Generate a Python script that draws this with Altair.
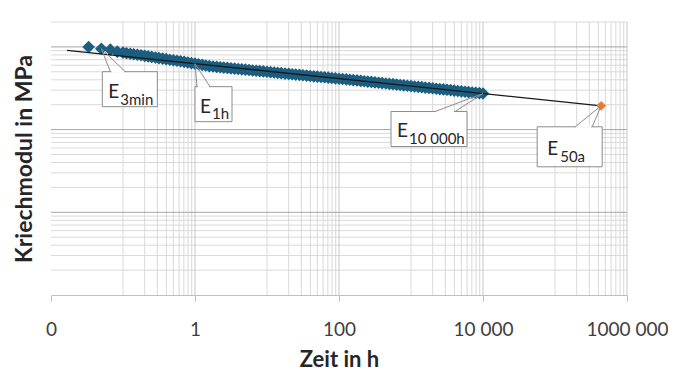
import altair as alt
import pandas as pd

# ---- data ----
time_early = [0.0333, 0.05, 0.0667, 0.0833]
mod_early = [997, 951, 925, 875]

time_d1 = [0.1, 0.112, 0.126, 0.141, 0.158, 0.178, 0.2, 0.224, 0.251, 0.282,
           0.316, 0.355, 0.398, 0.447, 0.501, 0.562, 0.631, 0.708, 0.794, 0.891]
mod_d1 = [851, 839, 827, 815, 803, 792, 780, 767, 756, 744,
          733, 722, 711, 700, 690, 680, 670, 659, 648, 637]

time_d2 = [1, 1.12, 1.26, 1.41, 1.58, 1.78, 2, 2.24, 2.51, 2.82,
           3.16, 3.55, 3.98, 4.47, 5.01, 5.62, 6.31, 7.08, 7.94, 8.91]
mod_d2 = [627, 616, 606, 596, 586, 579, 573, 568, 562, 557,
          551, 546, 540, 535, 530, 525, 519, 514, 510, 505]

time_d3 = [10, 11.2, 12.6, 14.1, 15.8, 17.8, 20, 22.4, 25.1, 28.2,
           31.6, 35.5, 39.8, 44.7, 50.1, 56.2, 63.1, 70.8, 79.4, 89.1]
mod_d3 = [500, 495, 490, 486, 481, 476, 472, 467, 463, 459,
          454, 450, 445, 441, 437, 433, 429, 425, 421, 416]

time_d4 = [100, 112, 126, 141, 158, 178, 200, 224, 251, 282,
           316, 355, 398, 447, 501, 562, 631, 708, 794, 891]
mod_d4 = [412, 409, 405, 401, 397, 393, 388, 384, 380, 377,
          373, 369, 365, 361, 357, 354, 350, 346, 343, 339]

time_d5 = [1000, 1120, 1260, 1410, 1580, 1780, 2000, 2240, 2510, 2820,
           3160, 3550, 3980, 4470, 5010, 5620, 6310, 7080, 7940, 8910, 10000]
mod_d5 = [336, 332, 329, 326, 322, 319, 316, 312, 309, 306,
          303, 300, 296, 293, 290, 287, 284, 281, 278, 276, 273]

trend_time = [0.0167, 438000]
trend_mod = [908, 194]

forecast_time = [438000]
forecast_mod = [194]

x_ticks = [0.01, 1, 100, 10000, 1000000]
x_tick_labels = ["0", "1", "100", "10 000", "1000 000"]
x_grid_major = [1, 100, 10000, 1000000]
x_grid_minor = [0.1, 0.2, 0.3, 0.4, 0.5, 0.6, 0.7, 0.8, 0.9,
                10, 20, 30, 40, 50, 60, 70, 80, 90,
                1000, 2000, 3000, 4000, 5000, 6000, 7000, 8000, 9000,
                100000, 200000, 300000, 400000, 500000, 600000, 700000, 800000, 900000]
y_grid_major = [10, 100, 1000]
y_grid_minor = [2, 3, 4, 5, 6, 7, 8, 9,
                20, 30, 40, 50, 60, 70, 80, 90,
                200, 300, 400, 500, 600, 700, 800, 900, 2000]

ann_names = ["E", "E", "E", "E"]
ann_subs = ["3min", "1h", "10 000h", "50a"]
ann_time = [0.05, 1, 10000, 438000]
ann_mod = [951, 627, 273, 194]

# layout of the callouts (pixel offsets from the pointed-at point)
ann_layout = [
    dict(box=(1, 23, 56, 58), wedge=(9, 24), e=(6, 26), sub=(18, 33)),
    dict(box=(0, 23, 37, 58), wedge=(2, 15), e=(5, 26), sub=(17, 32)),
    dict(box=(-92, 18, -16, 53), wedge=(-48, -28), e=(6, 25), sub=(18, 32)),
    dict(box=(-64, 21, 1, 61), wedge=(-26, -9), e=(10, 28), sub=(23, 35)),
]

FONT = "Lato"
pts = pd.DataFrame({
    "t": time_early + time_d1 + time_d2 + time_d3 + time_d4 + time_d5,
    "E": mod_early + mod_d1 + mod_d2 + mod_d3 + mod_d4 + mod_d5,
})
trend = pd.DataFrame({"t": trend_time, "E": trend_mod})
fc = pd.DataFrame({"t": forecast_time, "E": forecast_mod})

xscale = alt.Scale(type="log", domain=[0.01, 1000000], nice=False)
yscale = alt.Scale(type="log", domain=[1, 2000], nice=False)

label_expr = " : ".join(
    f"datum.value < {v * 3} ? '{lab}'" for v, lab in zip(x_ticks[:-1], x_tick_labels[:-1])
) + f" : '{x_tick_labels[-1]}'"

xaxis = alt.Axis(values=x_ticks, labelExpr=label_expr, grid=False,
                 domainColor="#bfbfbf", tickColor="#bfbfbf", tickSize=6,
                 labelFont=FONT, labelFontSize=19, labelColor="#404040",
                 labelPadding=19, labelFlush=False, labelOverlap=False, labelBound=False,
                 title="Zeit in h", titleFont=FONT, titleFontSize=22, titleFontWeight="bold",
                 titleColor="#262626", titleX=288, titleY=71, titleBaseline="alphabetic",
                 titleAlign="center")
yaxis = alt.Axis(labels=False, ticks=False, domain=False, grid=False,
                 title="Kriechmodul in MPa", titleFont=FONT, titleFontSize=23,
                 titleFontWeight="bold", titleColor="#262626", titleX=-27, titleY=136.5,
                 titleAngle=270, titleAlign="center", titleBaseline="middle")

X = lambda f: alt.X(f, scale=xscale, axis=xaxis)
Y = lambda f: alt.Y(f, scale=yscale, axis=yaxis)

def vgrid(vals, color):
    return alt.Chart(pd.DataFrame({"t": vals})).mark_rule(color=color, strokeWidth=1).encode(
        x=X("t:Q"))

def hgrid(vals, color):
    return alt.Chart(pd.DataFrame({"E": vals})).mark_rule(color=color, strokeWidth=1).encode(
        y=Y("E:Q"))

grid = [vgrid(x_grid_minor, "#d9d9d9"), hgrid(y_grid_minor, "#d9d9d9"),
        vgrid(x_grid_major, "#c8c8c8"), hgrid(y_grid_major, "#a6a6a6")]

points = alt.Chart(pts).mark_point(shape="diamond", filled=True, size=160, opacity=1,
                                   color="#1b5e80").encode(x=X("t:Q"), y=Y("E:Q"))

trend_line = alt.Chart(trend).mark_line(color="#1a1a1a", strokeWidth=1.3).encode(
    x=X("t:Q"), y=Y("E:Q"))

fc_point = alt.Chart(fc).mark_point(shape="diamond", filled=True, size=95, opacity=1,
                                    color="#ed7d31").encode(x=X("t:Q"), y=Y("E:Q"))

layers = grid + [points, trend_line, fc_point]

for name, sub, t, e, lay in zip(ann_names, ann_subs, ann_time, ann_mod, ann_layout):
    d = pd.DataFrame({"t": [t], "E": [e], "name": [name], "sub": [sub]})
    base = alt.Chart(d)
    x0, y0, x1, y1 = lay["box"]
    w0, w1 = lay["wedge"]
    enc = dict(x=X("t:Q"), y=Y("E:Q"), x2=alt.X2("t"), y2=alt.Y2("E"))
    box = base.mark_rect(fill="white", stroke="#8c8c8c", strokeWidth=1,
                         xOffset=x0, x2Offset=x1, yOffset=y0, y2Offset=y1).encode(**enc)
    cover = base.mark_rule(color="white", strokeWidth=2,
                           xOffset=w0 + 1, x2Offset=w1 - 1, yOffset=y0, y2Offset=y0).encode(**enc)
    p1 = base.mark_rule(color="#8c8c8c", strokeWidth=1,
                        xOffset=w0, x2Offset=0, yOffset=y0, y2Offset=0).encode(**enc)
    p2 = base.mark_rule(color="#8c8c8c", strokeWidth=1,
                        xOffset=w1, x2Offset=0, yOffset=y0, y2Offset=0).encode(**enc)
    etxt = base.mark_text(font=FONT, fontSize=19, color="#262626", align="left",
                          baseline="alphabetic", dx=x0 + lay["e"][0], dy=y0 + lay["e"][1]).encode(
        x=X("t:Q"), y=Y("E:Q"), text="name:N")
    stxt = base.mark_text(font=FONT, fontSize=15, color="#262626", align="left",
                          baseline="alphabetic", dx=x0 + lay["sub"][0], dy=y0 + lay["sub"][1]).encode(
        x=X("t:Q"), y=Y("E:Q"), text="sub:N")
    layers += [box, cover, p1, p2, etxt, stxt]

chart = alt.layer(*layers).properties(
    width=576, height=273,
    autosize=alt.AutoSizeParams(type="none"),
    padding={"left": 43, "top": 14, "right": 41, "bottom": 76},
    background="white",
).configure_view(stroke=None)

chart.save("out.html", embed_options={"renderer": "svg", "actions": False})
